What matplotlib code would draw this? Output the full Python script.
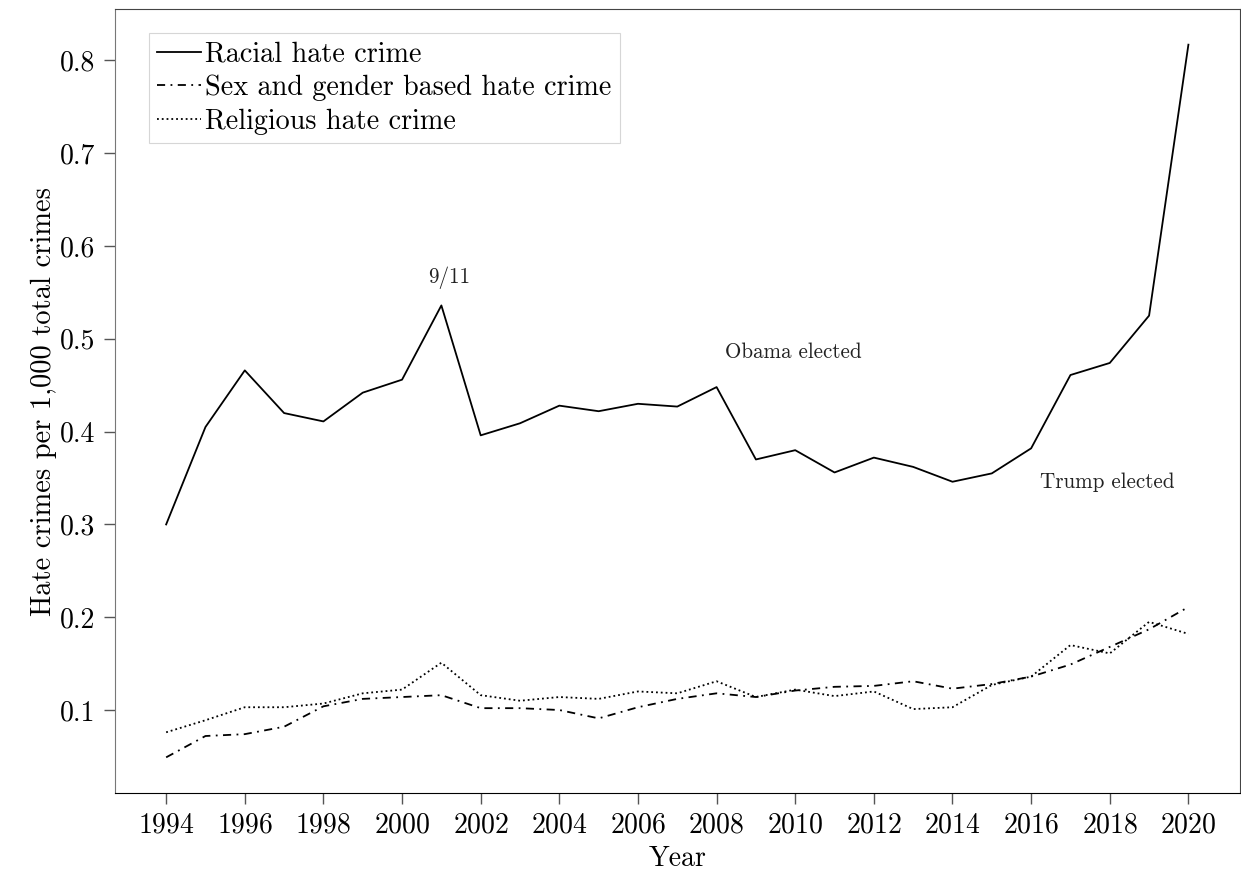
import matplotlib
matplotlib.use('Agg')
import matplotlib.pyplot as plt

plt.rcParams['font.family'] = ['cmr10', 'DejaVu Serif']
plt.rcParams['mathtext.fontset'] = 'cm'
plt.rcParams['axes.formatter.use_mathtext'] = True

# hate crimes per 1,000 total crimes
years = list(range(1994, 2021))
racial = [0.300, 0.405, 0.466, 0.420, 0.411, 0.442, 0.456, 0.536, 0.396, 0.409,
          0.428, 0.422, 0.430, 0.427, 0.448, 0.370, 0.380, 0.356, 0.372, 0.362,
          0.346, 0.355, 0.382, 0.461, 0.474, 0.525, 0.817]
sex_gender = [0.049, 0.072, 0.074, 0.082, 0.104, 0.112, 0.114, 0.116, 0.102, 0.102,
              0.100, 0.091, 0.103, 0.112, 0.118, 0.114, 0.121, 0.125, 0.126, 0.131,
              0.123, 0.128, 0.136, 0.149, 0.168, 0.187, 0.211]
religious = [0.076, 0.089, 0.103, 0.103, 0.107, 0.118, 0.122, 0.151, 0.116, 0.110,
             0.114, 0.112, 0.120, 0.118, 0.131, 0.114, 0.122, 0.115, 0.120, 0.101,
             0.103, 0.127, 0.136, 0.170, 0.161, 0.195, 0.182]
series_labels = ['Racial hate crime', 'Sex and gender based hate crime', 'Religious hate crime']

# event annotations (text, year, value)
events = [('9/11', 2001.2, 0.566),
          ('Obama elected', 2009.95, 0.486),
          ('Trump elected', 2017.95, 0.346)]

fig = plt.figure(figsize=(12.41, 8.77), dpi=100)
ax = fig.add_subplot(111)
fig.subplots_adjust(left=0.0927, right=0.9988, top=0.9897, bottom=0.0958)

ax.plot(years, racial, color='black', linestyle='-', linewidth=1.3, label=series_labels[0])
ax.plot(years, sex_gender, color='black', linestyle=(0, (4.5, 3, 1, 3)), linewidth=1.3,
        label=series_labels[1])
ax.plot(years, religious, color='black', linestyle=':', linewidth=1.3, label=series_labels[2])

for txt, x, y in events:
    ax.text(x, y, txt, fontsize=15.2, ha='center', va='center', color='#222222')

ax.set_xticks(years[::2])
ax.set_yticks([0.1, 0.2, 0.3, 0.4, 0.5, 0.6, 0.7, 0.8])
ax.set_yticklabels(['0.1', '0.2', '0.3', '0.4', '0.5', '0.6', '0.7', '0.8'])
ax.tick_params(axis='both', labelsize=20, length=8, width=1, color='#555555', pad=6)
ax.set_xlabel('Year', fontsize=20, labelpad=5)
ax.set_ylabel('Hate crimes per 1,000 total crimes', fontsize=20.5, labelpad=2)

ax.spines['left'].set_color('#777777')
ax.spines['top'].set_color('#444444')
ax.spines['right'].set_color('#444444')
ax.spines['bottom'].set_color('black')

leg = ax.legend(loc='upper left', bbox_to_anchor=(0.0302, 0.9694), borderaxespad=0,
                fontsize=20.3, frameon=True, fancybox=False, edgecolor='#cccccc',
                handlelength=1.55, handletextpad=0.15, borderpad=0.3, labelspacing=0.25)
leg.get_frame().set_linewidth(0.8)

fig.savefig('out.png', dpi=100)
